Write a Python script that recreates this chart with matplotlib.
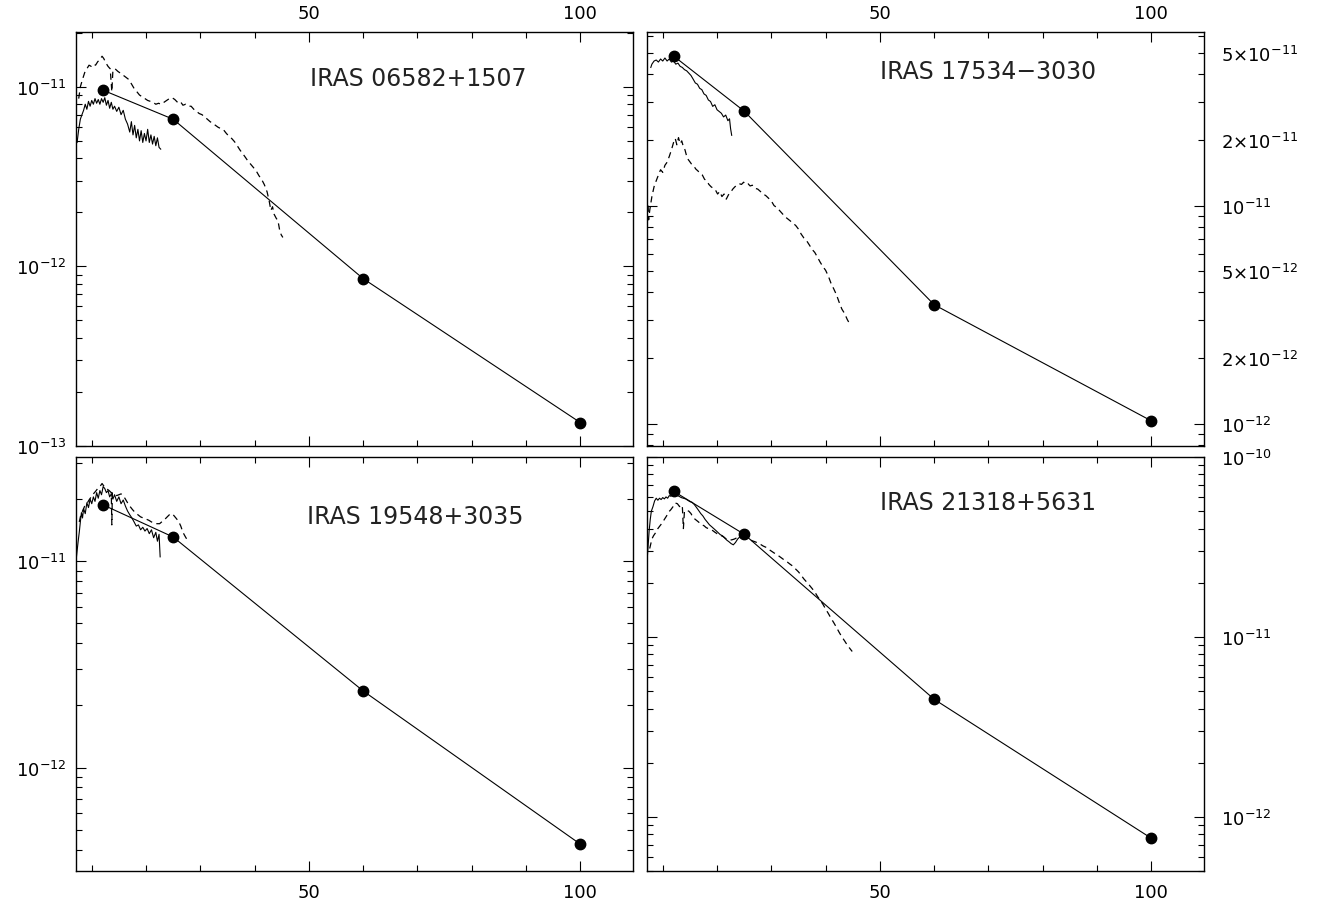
import numpy as np
import matplotlib
matplotlib.use("Agg")
import matplotlib.pyplot as plt
from matplotlib.ticker import LogLocator, FixedLocator, FuncFormatter, NullFormatter
import math

# ---------------- data ----------------
phot_wl = [12, 25, 60, 100]

names = ["IRAS 06582+1507", "IRAS 17534\u22123030", "IRAS 19548+3035", "IRAS 21318+5631"]

# panel 1: IRAS 06582+1507
p1_phot = [9.6e-12, 6.6e-12, 8.55e-13, 1.35e-13]
p1_solid_wl = [7.3, 7.6, 7.9, 8.2, 8.5, 8.8, 9.1, 9.4, 9.7, 10.0, 10.3, 10.6, 10.9, 11.2, 11.5, 11.8,
               12.1, 12.4, 12.7, 13.0, 13.3, 13.6, 13.9, 14.2, 14.6, 15.0, 15.4, 15.8, 16.2, 16.6,
               17.0, 17.3, 17.6, 17.9, 18.2, 18.5, 18.8, 19.1, 19.4, 19.7, 20.0, 20.3, 20.6, 20.9,
               21.2, 21.5, 21.8, 22.1, 22.4, 22.7]
p1_solid_f = [4.9, 5.8, 6.6, 7.0, 7.4, 8.0, 7.5, 8.3, 7.8, 8.4, 8.0, 8.6, 8.1, 8.5, 8.0, 8.6,
              8.2, 8.7, 7.9, 8.4, 7.6, 8.2, 7.5, 7.8, 7.3, 7.7, 7.0, 7.4, 6.6, 6.2,
              5.6, 6.4, 5.4, 6.1, 5.2, 5.8, 5.0, 5.7, 4.9, 5.5, 5.0, 5.8, 4.9, 5.4,
              4.8, 5.3, 4.7, 5.2, 4.6, 4.5]  # x 1e-12
p1_dash_wl = [7.6, 7.9, 8.3, 8.7, 9.1, 9.5, 9.9, 10.3, 10.7, 11.1, 11.5, 11.9, 12.2, 12.6, 13.0,
              13.4, 13.7, 13.9, 14.3, 14.8, 15.3, 15.8, 16.3, 16.8, 17.3, 17.8, 18.3, 18.8, 19.3,
              19.8, 20.3, 20.8, 21.3, 21.8, 22.3, 22.8, 23.3, 23.8, 24.3, 24.8, 25.3, 25.8, 26.3,
              26.8, 27.3, 27.8, 28.3, 28.8, 29.3, 29.8, 30.3, 30.8, 31.3, 31.8, 32.3, 32.8, 33.3,
              33.8, 34.3, 34.8, 35.3, 35.8, 36.3, 36.8, 37.3, 37.8, 38.3, 38.8, 39.3, 39.8, 40.3,
              40.8, 41.3, 41.8, 42.3, 42.7, 43.0, 43.3, 43.6, 44.0, 44.3, 44.6, 44.9, 45.2]
p1_dash_f = [8.6, 10.0, 11.0, 12.0, 12.6, 13.2, 13.0, 13.4, 13.2, 13.8, 14.2, 14.8, 14.4, 13.6, 13.0,
             12.6, 9.4, 12.4, 12.6, 12.2, 11.9, 11.6, 11.3, 11.0, 10.4, 9.8, 9.4, 9.0, 8.8,
             8.6, 8.4, 8.3, 8.2, 8.0, 8.1, 8.0, 8.2, 8.4, 8.6, 8.7, 8.5, 8.2, 8.3,
             7.9, 8.0, 7.8, 7.8, 7.5, 7.3, 7.1, 7.0, 6.8, 6.6, 6.4, 6.25, 6.1, 5.95,
             5.85, 5.75, 5.5, 5.3, 5.15, 4.95, 4.7, 4.45, 4.25, 4.05, 3.85, 3.7, 3.55, 3.4,
             3.2, 3.05, 2.85, 2.6, 2.3, 2.05, 2.15, 1.95, 1.85, 1.8, 1.6, 1.5, 1.45]  # x 1e-12

# panel 2: IRAS 17534-3030
p2_phot = [4.85e-11, 2.71e-11, 3.51e-12, 1.03e-12]
p2_solid_wl = [7.8, 8.0, 8.4, 8.8, 9.2, 9.6, 10.0, 10.4, 10.8, 11.2, 11.6, 12.0, 12.4, 12.8, 13.2,
               13.6, 14.0, 14.4, 14.8, 15.2, 15.6, 16.0, 16.4, 16.8, 17.2, 17.6, 18.0, 18.4, 18.8,
               19.2, 19.6, 20.0, 20.4, 20.8, 21.2, 21.6, 22.0, 22.3, 22.5, 22.7]
p2_solid_f = [4.3, 4.45, 4.6, 4.65, 4.55, 4.7, 4.6, 4.75, 4.6, 4.7, 4.55, 4.6, 4.45, 4.5, 4.35,
              4.3, 4.2, 4.15, 4.05, 3.95, 3.8, 3.65, 3.6, 3.45, 3.4, 3.25, 3.2, 3.05, 3.0,
              2.85, 2.9, 2.75, 2.7, 2.65, 2.55, 2.6, 2.45, 2.5, 2.25, 2.1]  # x 1e-11
p2_dash_wl = [7.3, 7.4, 7.6, 8.0, 8.4, 8.8, 9.2, 9.6, 10.0, 10.4, 10.8, 11.2, 11.6, 12.0, 12.3,
              12.6, 12.9, 13.2, 13.5, 13.8, 14.1, 14.5, 14.9, 15.3, 15.7, 16.1, 16.5, 16.9, 17.3,
              17.7, 18.1, 18.5, 18.9, 19.3, 19.7, 20.1, 20.5, 20.9, 21.3, 21.7, 22.1, 22.5, 22.9,
              23.3, 23.7, 24.1, 24.5, 24.9, 25.3, 25.7, 26.1, 26.5, 27.0, 27.5, 28.0, 28.5, 29.0,
              29.5, 30.0, 30.5, 31.0, 31.5, 32.0, 32.5, 33.0, 33.5, 34.0, 34.5, 35.0, 35.5, 36.0,
              36.5, 37.0, 37.5, 38.0, 38.5, 39.0, 39.5, 40.0, 40.5, 41.0, 41.5, 42.0, 42.5, 43.0,
              43.5, 44.0, 44.5]
p2_dash_f = [10.0, 8.6, 9.5, 11.0, 12.2, 13.0, 13.8, 14.6, 14.2, 15.3, 15.8, 16.8, 18.0, 19.5, 20.3,
             19.0, 20.5, 19.2, 19.8, 18.6, 18.0, 16.5, 16.0, 15.5, 15.2, 14.7, 14.4, 14.0, 13.8,
             13.2, 13.0, 12.5, 12.2, 12.0, 11.8, 11.3, 11.6, 11.0, 11.3, 10.7, 11.2, 11.5, 11.9,
             12.2, 12.4, 12.6, 12.5, 12.8, 12.5, 12.6, 12.3, 12.4, 12.0, 11.9, 11.6, 11.3, 11.1,
             10.8, 10.5, 10.0, 9.8, 9.5, 9.2, 8.9, 8.7, 8.5, 8.3, 8.1, 7.8, 7.4, 7.1,
             6.9, 6.6, 6.3, 6.1, 5.8, 5.5, 5.25, 5.05, 4.75, 4.4, 4.15, 3.9, 3.6, 3.35,
             3.2, 3.0, 2.85]  # x 1e-12

# panel 3: IRAS 19548+3035
p3_phot = [1.88e-11, 1.31e-11, 2.35e-12, 4.25e-13]
p3_solid_wl = [7.1, 7.3, 7.5, 7.7, 7.9, 8.1, 8.3, 8.5, 8.8, 9.1, 9.4, 9.7, 10.0, 10.3, 10.6, 10.9,
               11.2, 11.5, 11.8, 12.1, 12.4, 12.7, 13.0, 13.3, 13.6, 13.9, 14.2, 14.6, 15.0, 15.4,
               15.8, 16.2, 16.6, 17.0, 17.4, 17.8, 18.2, 18.6, 19.0, 19.4, 19.8, 20.2, 20.6, 21.0,
               21.4, 21.8, 22.1, 22.4, 22.6]
p3_solid_f = [1.0, 1.12, 1.25, 1.38, 1.55, 1.72, 1.62, 1.80, 1.70, 1.92, 1.82, 2.0, 1.90, 2.05, 1.95, 2.15,
              2.02, 2.2, 2.1, 2.3, 2.25, 2.15, 2.2, 2.05, 2.12, 2.0, 2.1, 1.95, 2.05, 1.9,
              1.98, 1.85, 1.75, 1.68, 1.62, 1.55, 1.48, 1.50, 1.42, 1.46, 1.40, 1.44, 1.36, 1.42,
              1.30, 1.38, 1.25, 1.35, 1.05]  # x 1e-11
p3_dash_wl = [7.7, 8.0, 8.3, 8.7, 9.1, 9.5, 9.9, 10.3, 10.7, 11.1, 11.5, 11.9, 12.3, 12.7, 13.2,
              13.6, 13.7, 13.8, 14.2, 14.6, 15.0, 15.4, 15.8, 16.2, 16.6, 17.0, 17.5, 18.0, 18.5,
              19.0, 19.5, 20.0, 20.5, 21.0, 21.5, 22.0, 22.5, 23.0, 23.5, 24.0, 24.5, 25.0, 25.5,
              26.0, 26.4, 26.8, 27.2, 27.5]
p3_dash_f = [1.55, 1.68, 1.75, 1.85, 1.90, 1.98, 2.05, 2.12, 2.18, 2.25, 2.30, 2.38, 2.3, 2.25, 2.2,
             2.15, 1.5, 2.15, 2.12, 2.08, 2.1, 2.12, 2.08, 2.0, 1.92, 1.85, 1.78, 1.72, 1.68,
             1.64, 1.62, 1.6, 1.58, 1.55, 1.53, 1.52, 1.52, 1.56, 1.6, 1.65, 1.70, 1.68, 1.62,
             1.56, 1.48, 1.38, 1.32, 1.28]  # x 1e-11

# panel 4: IRAS 21318+5631
p4_phot = [6.45e-11, 3.72e-11, 4.5e-12, 7.6e-13]
p4_solid_wl = [7.1, 7.3, 7.5, 7.7, 7.9, 8.2, 8.5, 8.8, 9.1, 9.4, 9.7, 10.0, 10.3, 10.6, 10.9, 11.2,
               11.5, 11.8, 12.1, 12.4, 12.7, 13.0, 13.4, 13.8, 14.2, 14.6, 15.0, 15.4, 15.8, 16.2,
               16.6, 17.0, 17.4, 17.8, 18.2, 18.6, 19.0, 19.4, 19.8, 20.2, 20.6, 21.0, 21.4, 21.8,
               22.2, 22.6, 23.0, 23.4, 23.8, 24.2]
p4_solid_f = [2.6, 3.2, 3.9, 4.5, 5.0, 5.3, 5.7, 5.9, 5.75, 5.9, 5.8, 5.95, 5.85, 6.0, 5.9, 6.1,
              6.05, 6.3, 6.3, 6.2, 6.1, 6.05, 5.95, 5.9, 5.85, 5.75, 5.65, 5.6, 5.45, 5.25,
              5.05, 4.85, 4.7, 4.5, 4.35, 4.2, 4.1, 4.0, 3.9, 3.8, 3.7, 3.65, 3.55, 3.45,
              3.38, 3.3, 3.25, 3.35, 3.5, 3.6]  # x 1e-11
p4_dash_wl = [7.6, 8.0, 8.3, 8.7, 9.1, 9.5, 9.9, 10.3, 10.7, 11.1, 11.5, 11.9, 12.3, 12.7, 13.1,
              13.6, 13.8, 14.0, 14.4, 14.8, 15.2, 15.6, 16.0, 16.4, 16.8, 17.2, 17.6, 18.0, 18.4,
              18.8, 19.2, 19.6, 20.0, 20.4, 20.8, 21.2, 21.6, 22.0, 22.4, 22.8, 23.2, 23.6, 24.0,
              24.5, 25.0, 25.5, 26.0, 26.5, 27.0, 27.5, 28.0, 28.5, 29.0, 29.5, 30.0, 30.5, 31.0,
              31.5, 32.0, 32.5, 33.0, 33.5, 34.0, 34.5, 35.0, 35.5, 36.0, 36.5, 37.0, 37.5, 38.0,
              38.5, 39.0, 39.5, 40.0, 40.5, 41.0, 41.5, 42.0, 42.5, 43.0, 43.5, 44.0, 44.5, 44.9]
p4_dash_f = [3.1, 3.5, 3.65, 3.8, 4.0, 4.15, 4.3, 4.5, 4.7, 4.95, 5.1, 5.3, 5.55, 5.5, 5.3,
             5.4, 4.0, 5.0, 5.05, 5.0, 4.85, 4.6, 4.5, 4.4, 4.3, 4.2, 4.15, 4.05, 4.0,
             3.95, 3.9, 3.82, 3.75, 3.7, 3.65, 3.6, 3.52, 3.48, 3.45, 3.47, 3.5, 3.55, 3.58,
             3.55, 3.52, 3.5, 3.47, 3.42, 3.38, 3.33, 3.27, 3.2, 3.15, 3.07, 3.0, 2.93, 2.87,
             2.8, 2.73, 2.66, 2.6, 2.53, 2.47, 2.38, 2.3, 2.2, 2.1, 2.02, 1.94, 1.86, 1.78,
             1.68, 1.6, 1.52, 1.43, 1.35, 1.27, 1.2, 1.13, 1.06, 1.0, 0.95, 0.9, 0.86, 0.83]  # x 1e-11

ylims = [(1.0e-13, 2.02e-11), (7.9e-13, 6.25e-11), (3.15e-13, 3.2e-11), (5.0e-13, 1.0e-10)]
xlim = (7.1, 109.7)

# ---------------- figure ----------------
W, H = 1325, 904
fig = plt.figure(figsize=(W / 100, H / 100), dpi=100)


def rect(l, t, r, b):
    return [l / W, 1 - b / H, (r - l) / W, (b - t) / H]


rects = [rect(76, 33, 633, 447), rect(647, 33, 1204, 447),
         rect(76, 458, 633, 872), rect(647, 458, 1204, 872)]

panels = [
    (p1_phot, p1_solid_wl, p1_solid_f, 1e-12, p1_dash_wl, p1_dash_f, 1e-12),
    (p2_phot, p2_solid_wl, p2_solid_f, 1e-11, p2_dash_wl, p2_dash_f, 1e-12),
    (p3_phot, p3_solid_wl, p3_solid_f, 1e-11, p3_dash_wl, p3_dash_f, 1e-11),
    (p4_phot, p4_solid_wl, p4_solid_f, 1e-11, p4_dash_wl, p4_dash_f, 1e-11),
]
text_pos = [(0.421, 0.890), (0.418, 0.905), (0.415, 0.857), (0.418, 0.891)]


def dec_fmt(v, pos):
    e = int(round(math.log10(v)))
    return r"$10^{%d}$" % e


def minor_fmt(v, pos):
    e = int(math.floor(math.log10(v) + 1e-9))
    m = v / 10 ** e
    if abs(m - 2) < 0.05 or abs(m - 5) < 0.05:
        return r"$%d{\times}10^{%d}$" % (int(round(m)), e)
    return ""


for i, (phot, swl, sf, sscale, dwl, df, dscale) in enumerate(panels):
    ax = fig.add_axes(rects[i])
    ax.set_yscale("log")
    ax.set_xlim(*xlim)
    ax.set_ylim(*ylims[i])

    ax.plot(swl, np.array(sf) * sscale, color="black", lw=0.8, ls="-")
    ax.plot(dwl, np.array(df) * dscale, color="black", lw=0.9, ls=(0, (5, 3.5)))
    ax.plot(phot_wl, phot, color="black", lw=0.8, marker="o", ms=7.5)

    ax.text(text_pos[i][0], text_pos[i][1], names[i], transform=ax.transAxes,
            fontsize=17, va="center", ha="left", color="#222222")

    # x ticks
    ax.xaxis.set_major_locator(FixedLocator([50, 100]))
    ax.xaxis.set_minor_locator(FixedLocator([10, 20, 30, 40, 60, 70, 80, 90]))
    # y ticks
    ax.yaxis.set_major_locator(LogLocator(base=10, subs=(1.0,)))
    ax.yaxis.set_minor_locator(LogLocator(base=10, subs=tuple(range(2, 10))))
    ax.yaxis.set_major_formatter(FuncFormatter(dec_fmt))
    if i == 1:
        ax.yaxis.set_minor_formatter(FuncFormatter(minor_fmt))
    else:
        ax.yaxis.set_minor_formatter(NullFormatter())

    ax.tick_params(which="both", direction="in", top=True, bottom=True, left=True, right=True,
                   labelsize=13, colors="black", width=0.8)
    ax.tick_params(which="major", length=7.5)
    ax.tick_params(which="minor", length=4.5)

    top_row = i < 2
    right_col = i % 2 == 1
    ax.tick_params(axis="x", which="both", labeltop=top_row, labelbottom=not top_row,
                   pad=7 if top_row else 8.5)
    ax.tick_params(axis="y", which="both", labelleft=not right_col, labelright=right_col,
                   pad=12 if right_col else 7)
    for s in ax.spines.values():
        s.set_linewidth(1.0)

fig.savefig("out.png", dpi=100)
